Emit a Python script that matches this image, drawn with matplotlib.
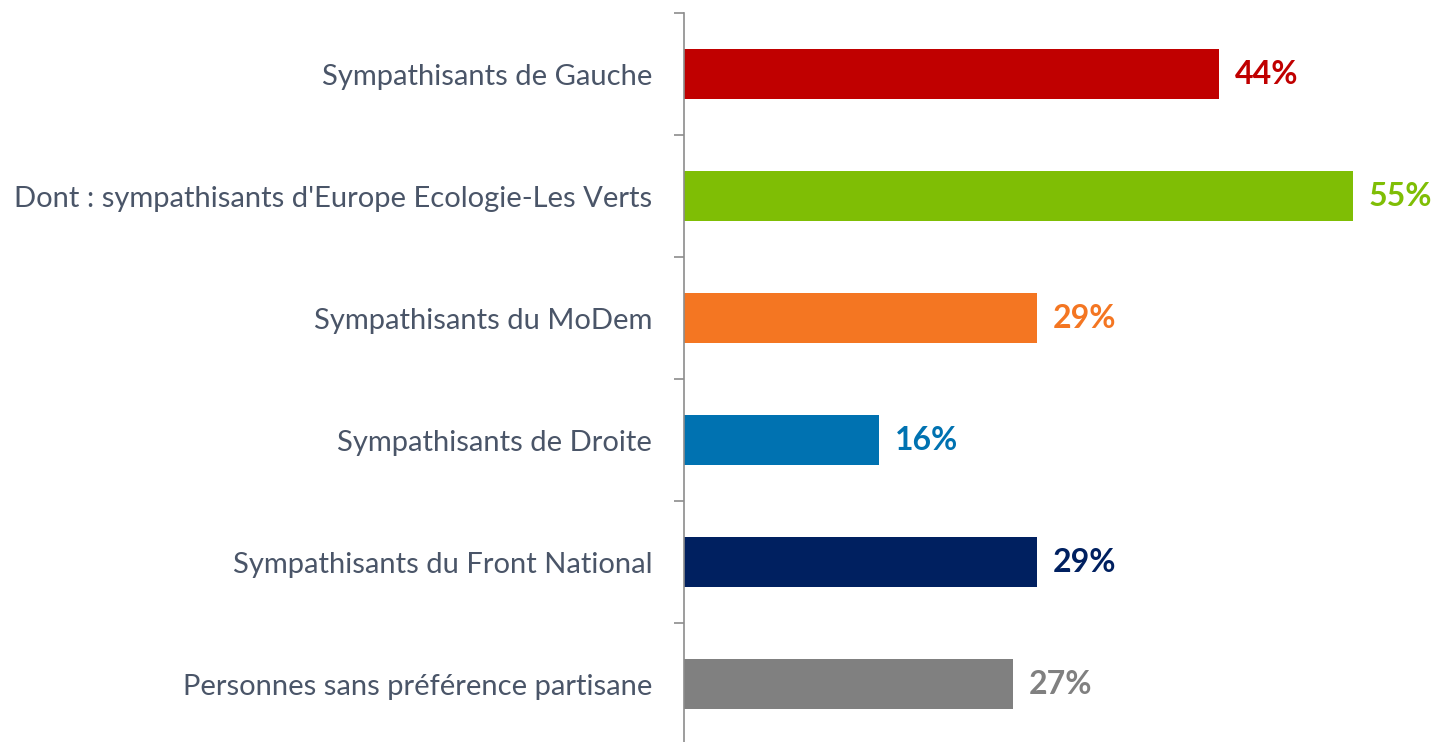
import matplotlib.pyplot as plt
import numpy as np

# Data
categories = [
    "Sympathisants de Gauche",
    "Dont : sympathisants d'Europe Ecologie-Les Verts",
    "Sympathisants du MoDem",
    "Sympathisants de Droite",
    "Sympathisants du Front National",
    "Personnes sans préférence partisane",
]
values = [44, 55, 29, 16, 29, 27]
colors = ["#C00000", "#7FBE05", "#F47622", "#0072B1", "#002060", "#808080"]

plt.rcParams['font.family'] = ['Lato', 'DejaVu Sans']

fig = plt.figure(figsize=(14.37, 7.42), dpi=100)
# axes positioned so that the value axis sits at x=684px
ax = fig.add_axes([684 / 1437, (742 - 745) / 742, 730 / 1437, 732 / 742])

y = np.arange(len(categories))
ax.barh(y, values, height=0.41, color=colors)
ax.set_xlim(0, 60)
ax.set_ylim(len(categories) - 0.5, -0.5)

for yi, v, c in zip(y, values, colors):
    ax.text(v + 1.3, yi, f"{v}%", va='center', ha='left', color=c,
            fontsize=23, fontweight='bold')

# labels
ax.set_yticks(y)
ax.set_yticklabels(categories, fontsize=21, color="#4A5568")
ax.tick_params(axis='y', which='major', length=0, pad=23)
# boundary tick marks
ax.set_yticks(np.arange(-0.5, len(categories) + 0.5, 1), minor=True)
ax.tick_params(axis='y', which='minor', length=7.5, width=1.2, color="#8C8C8C")

ax.set_xticks([])
for s in ['top', 'right', 'bottom']:
    ax.spines[s].set_visible(False)
ax.spines['left'].set_color("#8C8C8C")
ax.spines['left'].set_linewidth(1.2)

fig.savefig("out.png", dpi=100)
